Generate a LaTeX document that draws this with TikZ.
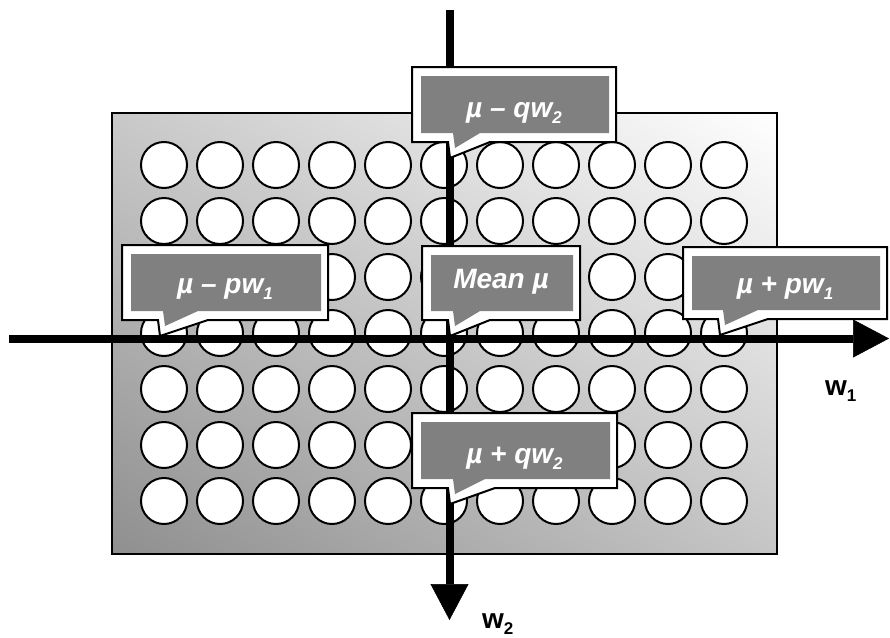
\documentclass[tikz,border=0pt]{standalone}
\usepackage{fontspec}
\setmainfont{Liberation Sans}
\usetikzlibrary{arrows.meta}

% lowered, smaller index digit
\newcommand\lowidx[1]{\raisebox{-6pt}{\fontsize{17}{17}\selectfont #1}}

% callout: #1 name, #2 left, #3 top, #4 right, #5 bottom,
%          #6 tail left x, #7 tail right x, #8 text baseline y, #9 text
\newcommand\calloutbox[9]{%
  \path[callout frame]
    (#2,#3) -- (#4,#3) -- (#4,#5) -- (#7,#5) -- ({#6+2},{#5+16})
    -- (#6,#5) -- (#2,#5) -- cycle;
  \path[callout body]
    ({#2+9},{#3+9}) -- ({#4-7},{#3+9}) -- ({#4-7},{#5-9}) -- ({#7-10},{#5-9})
    -- ({#6+7},{#5+6}) -- ({#6+5},{#5-9}) -- ({#2+9},{#5-9}) -- cycle;
  \node[callout text, anchor=base] (#1) at ({(#2+#4)/2},#8) {#9};%
}

\tikzset{
  plate shade/.style={bottom color=black!44, middle color=black!15, top color=white},
  plate/.style={draw=black, line width=2pt},
  well/.style={circle, draw=black, line width=2pt, fill=white,
    minimum size=46pt, inner sep=0pt},
  axis/.style={line width=8pt,
    -{Triangle[width=38pt,length=36pt,line width=0.5pt]}},
  callout frame/.style={draw=black, line width=2pt, fill=white, line join=miter},
  callout body/.style={fill=black!50},
  callout text/.style={text=white, inner sep=0pt,
    font=\bfseries\itshape\fontsize{28}{30}\selectfont},
  axis label/.style={inner sep=0pt, font=\bfseries\fontsize{28}{30}\selectfont},
}

\begin{document}
\begin{tikzpicture}[x=1pt,y=-1pt]
\useasboundingbox (0,0) rectangle (890,637);

% plate: diagonal gradient, dark at lower left, white at upper right
\coordinate (platecentre) at (444.5,333.5);
\begin{scope}
  \clip (112,113) rectangle (777,554);
  \begin{scope}[transform canvas={rotate around={-32:(platecentre)}}]
    \shade[plate shade] (-80,-30.5) rectangle (969,697.5);
  \end{scope}
\end{scope}
\draw[plate] (112,113) rectangle (777,554);

\foreach \i in {0,...,10}
  \foreach \j in {0,...,6}
    \node[well] (well-\i-\j) at ({164+56*\i},{165+56*\j}) {};

% axes
\coordinate (w1start) at (9,338.5);
\coordinate (w1end) at (889,338.5);
\coordinate (w2start) at (449.5,10);
\coordinate (w2end) at (449.5,620);
\draw[axis] (w1start) -- (w1end);
\draw[axis] (w2start) -- (w2end);

\node[axis label, anchor=base west] (w1label) at (825,395) {w\lowidx{1}};
\node[axis label, anchor=base west] (w2label) at (482,628) {w\lowidx{2}};

% callouts
\calloutbox{qminus}{412}{67}{616}{142}{448}{490}{117}{µ – qw\lowidx{2}}
\calloutbox{pminus}{122}{245}{328}{320}{158}{208}{293}{µ – pw\lowidx{1}}
\calloutbox{pplus}{683}{247}{887}{319}{718}{768}{293}{µ + pw\lowidx{1}}
\calloutbox{mean}{422}{246}{580}{320}{448}{490}{288}{Mean µ}
\calloutbox{qplus}{412}{413}{617}{488}{448}{495}{463}{µ + qw\lowidx{2}}
\end{tikzpicture}
\end{document}
